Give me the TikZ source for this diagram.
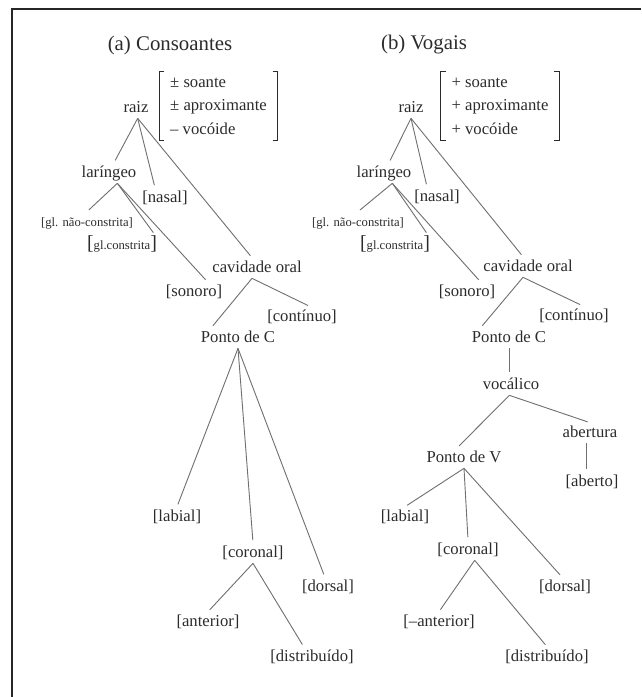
\documentclass[tikz,border=0pt]{standalone}
\usepackage{fontspec}
\setmainfont{Liberation Serif}
\definecolor{ink}{HTML}{2B2B2B}
\definecolor{edgec}{HTML}{707070}
\tikzset{
  lbl/.style={text=ink, font=\fontsize{10}{12}\selectfont, inner sep=1.5pt, text height=7pt, text depth=2pt},
  sml/.style={lbl, font=\fontsize{7.6}{9}\selectfont},
  ttl/.style={text=ink, font=\fontsize{12.5}{15}\selectfont},
  feat/.style={text=ink, font=\fontsize{10}{14.1}\selectfont, align=left, minimum width=70.5pt, minimum height=41pt},
  branch/.style={draw=edgec, line width=0.55pt, shorten >=1.5pt},
  brk/.style={draw=ink, line width=0.6pt},
}
\newcommand{\bigbr}[1]{{\fontsize{12}{12}\selectfont #1}}

\begin{document}
\begin{tikzpicture}[x=0.6pt, y=-0.6pt]
  \useasboundingbox (0,0) rectangle (641,697);

  % Frame
  \draw[line width=1.6pt, black!85] (12,697) -- (12,9) -- (641,9);

  % Titles
  \node[ttl] (titA) at (170,45) {(a) Consoantes};
  \node[ttl] (titB) at (424,45) {(b) Vogais};

  % (a) Consoantes -- nodes
  \node[lbl] (raizA) at (136,108) {raiz};
  \node[feat] (featA) at (218.5,106) {± soante\\± aproximante\\– vocóide};
  \node[lbl] (larA) at (109,173) {laríngeo};
  \node[lbl] (nasA) at (165,198) {[nasal]};
  \node[sml] (gncA) at (87,222) {[gl. não-constrita]};
  \node[sml] (gcA) at (122,245) {\bigbr{[}gl.constrita\bigbr{]}};
  \node[lbl] (cavA) at (257,268) {cavidade oral};
  \node[lbl] (sonA) at (194,292) {[sonoro]};
  \node[lbl] (contA) at (302,317) {[contínuo]};
  \node[lbl] (pcA) at (238,338) {Ponto de C};
  \node[lbl] (labA) at (177,517) {[labial]};
  \node[lbl] (corA) at (253,553) {[coronal]};
  \node[lbl] (dorA) at (328,587) {[dorsal]};
  \node[lbl] (antA) at (208,622) {[anterior]};
  \node[lbl] (disA) at (312,657) {[distribuído]};

  % (a) Consoantes -- brackets
  \draw[brk] ([xshift=3pt]featA.north west) -- (featA.north west) -- (featA.south west) -- ([xshift=3pt]featA.south west);
  \draw[brk] ([xshift=-3pt]featA.north east) -- (featA.north east) -- (featA.south east) -- ([xshift=-3pt]featA.south east);

  % (a) Consoantes -- branches
  \draw[branch] ([xshift=1pt]raizA.south) -- ([xshift=3pt]larA.north);
  \draw[branch] ([xshift=1pt]raizA.south) -- ([xshift=-6pt]nasA.north);
  \draw[branch] ([xshift=1pt]raizA.south) -- ([xshift=-3pt]cavA.north);
  \draw[branch] ([xshift=5pt]larA.south) -- (gncA.north);
  \draw[branch] ([xshift=5pt]larA.south) -- ([xshift=-3pt]gcA.north east);
  \draw[branch] ([xshift=5pt]larA.south) -- ([xshift=8pt]sonA.north);
  \draw[branch] ([xshift=-3pt]cavA.south) -- ([xshift=-16pt]pcA.north);
  \draw[branch] ([xshift=-3pt]cavA.south) -- ([xshift=5pt]contA.north);
  \draw[branch] (pcA.south) -- (labA.north);
  \draw[branch] (pcA.south) -- (corA.north);
  \draw[branch] (pcA.south) -- ([xshift=-2pt]dorA.north);
  \draw[branch] (corA.south) -- (antA.north);
  \draw[branch] (corA.south) -- ([xshift=-5pt]disA.north);

  % (b) Vogais -- nodes
  \node[lbl] (raizB) at (411,108) {raiz};
  \node[feat] (featB) at (500,106) {+ soante\\+ aproximante\\+ vocóide};
  \node[lbl] (larB) at (384,173) {laríngeo};
  \node[lbl] (nasB) at (437,197) {[nasal]};
  \node[sml] (gncB) at (358,222) {[gl. não-constrita]};
  \node[sml] (gcB) at (395,245) {\bigbr{[}gl.constrita\bigbr{]}};
  \node[lbl] (cavB) at (528,267) {cavidade oral};
  \node[lbl] (sonB) at (467,292) {[sonoro]};
  \node[lbl] (contB) at (574,316) {[contínuo]};
  \node[lbl] (pcB) at (509,338) {Ponto de C};
  \node[lbl] (vocB) at (511,385) {vocálico};
  \node[lbl] (abB) at (590,433) {abertura};
  \node[lbl] (pvB) at (464,458) {Ponto de V};
  \node[lbl] (aberB) at (592,482) {[aberto]};
  \node[lbl] (labB) at (405,517) {[labial]};
  \node[lbl] (corB) at (468,550) {[coronal]};
  \node[lbl] (dorB) at (565,587) {[dorsal]};
  \node[lbl] (antB) at (439,622) {[–anterior]};
  \node[lbl] (disB) at (547,657) {[distribuído]};

  % (b) Vogais -- brackets
  \draw[brk] ([xshift=3pt]featB.north west) -- (featB.north west) -- (featB.south west) -- ([xshift=3pt]featB.south west);
  \draw[brk] ([xshift=-3pt]featB.north east) -- (featB.north east) -- (featB.south east) -- ([xshift=-3pt]featB.south east);

  % (b) Vogais -- branches
  \draw[branch] (raizB.south) -- ([xshift=3pt]larB.north);
  \draw[branch] (raizB.south) -- ([xshift=-6pt]nasB.north);
  \draw[branch] (raizB.south) -- ([xshift=-3pt]cavB.north);
  \draw[branch] ([xshift=5pt]larB.south) -- (gncB.north);
  \draw[branch] ([xshift=5pt]larB.south) -- ([xshift=-3pt]gcB.north east);
  \draw[branch] ([xshift=5pt]larB.south) -- ([xshift=8pt]sonB.north);
  \draw[branch] ([xshift=-3pt]cavB.south) -- ([xshift=-17pt]pcB.north);
  \draw[branch] ([xshift=-3pt]cavB.south) -- ([xshift=5pt]contB.north);
  \draw[branch] (pcB.south) -- (pcB.south |- vocB.north);
  \draw[branch] ([xshift=-1pt]vocB.south) -- ([xshift=-4pt]pvB.north);
  \draw[branch] ([xshift=-1pt]vocB.south) -- (abB.north);
  \draw[branch] ([xshift=-2pt]abB.south) -- ([xshift=-2pt]abB.south |- aberB.north);
  \draw[branch] (pvB.south) -- (labB.north);
  \draw[branch] (pvB.south) -- (corB.north);
  \draw[branch] (pvB.south) -- ([xshift=-2pt]dorB.north);
  \draw[branch] ([xshift=4pt]corB.south) -- (antB.north);
  \draw[branch] ([xshift=4pt]corB.south) -- (disB.north);
\end{tikzpicture}
\end{document}
